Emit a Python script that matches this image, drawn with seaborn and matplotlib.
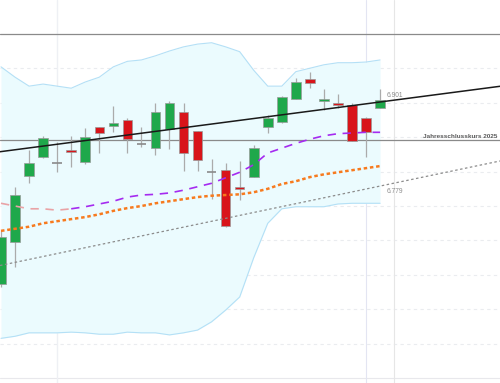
import numpy as np
import pandas as pd
import matplotlib
matplotlib.use("Agg")
import matplotlib.pyplot as plt
import seaborn as sns

sns.set_theme(style="white")
plt.rcParams['font.family'] = ['Liberation Sans', 'DejaVu Sans']

# ---- data ----
opens  = [6.637, 6.698, 6.794, 6.821, 6.812, 6.831, 6.814, 6.865, 6.866, 6.875,
          6.840, 6.834, 6.862, 6.886, 6.859, 6.799, 6.802, 6.778, 6.792, 6.865,
          6.872, 6.905, 6.934, 6.902, 6.900, 6.897, 6.878, 6.892]
highs  = [6.715, 6.778, 6.831, 6.852, 6.843, 6.852, 6.863, 6.865, 6.895, 6.878,
          6.865, 6.900, 6.902, 6.900, 6.859, 6.818, 6.812, 6.815, 6.839, 6.882,
          6.910, 6.936, 6.945, 6.920, 6.913, 6.900, 6.879, 6.920]
lows   = [6.632, 6.662, 6.783, 6.820, 6.799, 6.807, 6.811, 6.827, 6.857, 6.827,
          6.836, 6.824, 6.833, 6.801, 6.801, 6.760, 6.720, 6.759, 6.792, 6.856,
          6.871, 6.905, 6.921, 6.889, 6.892, 6.844, 6.821, 6.892]
closes = [6.705, 6.766, 6.812, 6.849, 6.812, 6.830, 6.850, 6.856, 6.871, 6.847,
          6.840, 6.886, 6.900, 6.827, 6.817, 6.799, 6.721, 6.775, 6.834, 6.878,
          6.908, 6.930, 6.929, 6.905, 6.897, 6.844, 6.857, 6.904]

band_upper = [6.952, 6.937, 6.924, 6.927, 6.924, 6.921, 6.930, 6.937, 6.952, 6.960,
              6.962, 6.968, 6.975, 6.981, 6.985, 6.987, 6.981, 6.974, 6.947, 6.924,
              6.924, 6.945, 6.950, 6.955, 6.958, 6.958, 6.959, 6.962]
band_lower = [6.558, 6.561, 6.566, 6.566, 6.566, 6.567, 6.566, 6.564, 6.564, 6.567,
              6.566, 6.566, 6.563, 6.566, 6.570, 6.582, 6.599, 6.618, 6.675, 6.725,
              6.746, 6.749, 6.749, 6.749, 6.753, 6.754, 6.754, 6.754]
band_middle = [6.754, 6.750, 6.746, 6.746, 6.744, 6.746, 6.749, 6.753, 6.757, 6.763,
               6.766, 6.767, 6.769, 6.773, 6.778, 6.783, 6.791, 6.799, 6.810, 6.827,
               6.834, 6.841, 6.847, 6.852, 6.855, 6.856, 6.857, 6.857]
ma_slow = [6.714, 6.717, 6.720, 6.725, 6.728, 6.731, 6.734, 6.738, 6.743, 6.747,
           6.750, 6.754, 6.757, 6.760, 6.763, 6.765, 6.766, 6.767, 6.770, 6.775,
           6.782, 6.786, 6.792, 6.796, 6.799, 6.802, 6.805, 6.808]

trend_upper = (6.829, 6.901)    # values at first and last candle
trend_lower = (6.664, 6.779)
year_close = 6.846
resistance = 7.000
grid_levels = [6.55, 6.60, 6.65, 6.70, 6.75, 6.80, 6.85, 6.90, 6.95]
vlines_idx = [4, 26, 28]
label_upper = "6.901"
label_lower = "6.779"
label_year = "Jahresschlusskurs 2025"

# ---- figure ----
fig = plt.figure(figsize=(5.0, 3.83), dpi=100)
ax = fig.add_axes([0, 0, 1, 1])
ax.set_xlim(-0.071, 35.54)
ax.set_ylim(6.4932, 7.049)
ax.axis("off")

n = len(opens)
idx = np.arange(n)
df = pd.DataFrame({"i": idx, "upper": band_upper, "lower": band_lower,
                   "middle": band_middle, "slow": ma_slow})

# grid
for g in grid_levels:
    ax.axhline(g, color="#eaecef", lw=0.8, ls=(0, (3, 3)), zorder=0)
ax.axhline(6.50, color="#e8e8ec", lw=0.8, zorder=0)
ax.axvline(vlines_idx[0], color="#eef0f4", lw=1.0, zorder=0)
ax.axvline(vlines_idx[1], color="#e3e5f2", lw=0.8, zorder=0)
ax.axvline(vlines_idx[2], color="#e6e6e6", lw=0.8, zorder=0)

# bollinger band
ax.fill_between(df["i"], df["lower"], df["upper"], color="#ebfbfe", lw=0, zorder=0.5)
sns.lineplot(data=df, x="i", y="upper", ax=ax, color="#b4e0f6", lw=0.8, zorder=1)
sns.lineplot(data=df, x="i", y="lower", ax=ax, color="#b4e0f6", lw=0.8, zorder=1)

# horizontal lines
ax.axhline(resistance, color="#8a8a8a", lw=0.9, zorder=2)
ax.axhline(year_close, color="#8a8a8a", lw=0.9, zorder=2)

# candles
w = 0.68
for i in range(n):
    o, h, l, c = opens[i], highs[i], lows[i], closes[i]
    ax.vlines(i, l, h, color="#ababab", lw=0.9, zorder=3)
    if abs(c - o) < 0.0005:
        ax.hlines(o, i - w / 2, i + w / 2, color="#8a8a8a", lw=1.2, zorder=4)
        continue
    fc = "#1fa84b" if c > o else "#d8141a"
    lo, hi = min(o, c), max(o, c)
    hgt = max(hi - lo, 0.003)
    if hi - lo < 0.003:
        lo = (hi + lo) / 2 - 0.0015
    ax.bar(i, hgt, bottom=lo, width=w, color=fc, edgecolor="#9a9a9a",
           linewidth=0.5, zorder=4)

# moving averages
sns.lineplot(x=idx[:6], y=band_middle[:6], ax=ax, color="#e9a3a6", lw=1.2,
             linestyle=(0, (5, 4)), zorder=5)
sns.lineplot(x=idx[5:], y=band_middle[5:], ax=ax, color="#a52bf0", lw=1.2,
             linestyle=(0, (5, 4)), zorder=5)
sns.lineplot(x=idx, y=ma_slow, ax=ax, color="#f77a1e", lw=1.8,
             linestyle=(0, (1.4, 1.1)), zorder=5)

# trend lines
ax.axline((0, trend_upper[0]), (n - 1, trend_upper[1]), color="#1a1a1a", lw=1.1, zorder=6)
ax.axline((0, trend_lower[0]), (n - 1, trend_lower[1]), color="#8c8c8c", lw=0.9,
          linestyle=(0, (2, 2)), zorder=6)

# labels
ax.text(n - 1 + 0.5, trend_upper[1] + 0.004, label_upper, fontsize=4.8,
        color="#8c8c8c", ha="left", va="bottom", zorder=7)
ax.text(n - 1 + 0.5, trend_lower[1] - 0.003, label_lower, fontsize=4.8,
        color="#8c8c8c", ha="left", va="top", zorder=7)
ax.text(35.35, year_close + 0.002, label_year, fontsize=4.6, color="#5a5a5a",
        ha="right", va="bottom", fontweight="bold", zorder=7)

fig.savefig("out.png", dpi=100)
